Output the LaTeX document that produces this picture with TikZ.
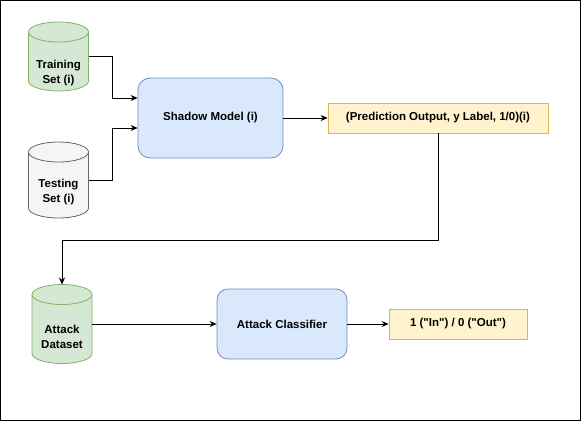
\documentclass[tikz,border=0pt]{standalone}
\usepackage{fontspec}
\setmainfont{Liberation Sans}
\usetikzlibrary{arrows.meta}
\definecolor{greenfill}{HTML}{D5E8D4}
\definecolor{greenline}{HTML}{82B366}
\definecolor{greyfill}{HTML}{F5F5F5}
\definecolor{greyline}{HTML}{666666}
\definecolor{bluefill}{HTML}{DAE8FC}
\definecolor{blueline}{HTML}{6C8EBF}
\definecolor{yellowfill}{HTML}{FFF2CC}
\definecolor{yellowline}{HTML}{D6B656}
\tikzset{
  dbbox/.style={rectangle, inner sep=0pt, outer sep=0pt, minimum width=60pt},
  model/.style={rectangle, rounded corners=12pt, draw=blueline, fill=bluefill, line width=0.8pt},
  result/.style={rectangle, draw=yellowline, fill=yellowfill, line width=0.8pt},
  caption/.style={align=center, inner sep=0pt},
  flow/.style={-{Stealth[length=7pt, width=6pt]}, line width=0.8pt}
}
\newcommand{\drawdb}[3]{%
  \filldraw[draw=#3, fill=#2, line width=0.8pt] ([yshift=-10pt]#1.north west) -- ([yshift=10pt]#1.south west)
    arc[start angle=180, end angle=360, x radius=30pt, y radius=10pt] -- ([yshift=-10pt]#1.north east)
    arc[start angle=0, end angle=180, x radius=30pt, y radius=10pt] -- cycle;
  \draw[draw=#3, line width=0.8pt] ([yshift=-10pt]#1.north west) arc[start angle=180, end angle=360, x radius=30pt, y radius=10pt];}
\newcommand{\qt}{\textquotedbl}
\begin{document}
\begin{tikzpicture}[x=1pt, y=-1pt, font=\fontsize{11.5}{15}\selectfont\bfseries]
\useasboundingbox (0,0) rectangle (581,421);
\draw[line width=0.8pt] (0.5,0.5) rectangle (580.5,420.5);

\node[dbbox, minimum height=69pt] (train) at (58.5,56.5) {};
\drawdb{train}{greenfill}{greenline}
\node[caption] (traintext) at (58.5,73) {Training\\Set (i)};
\node[dbbox, minimum height=76pt] (test) at (58.5,180) {};
\drawdb{test}{greyfill}{greyline}
\node[caption] (testtext) at (58.5,192) {Testing\\Set (i)};

\node[model, minimum width=145pt, minimum height=80pt] (shadow) at (210.5,118) {Shadow Model (i)};
\node[result, minimum width=220pt, minimum height=30pt] (pred) at (438,118) {(Prediction Output, y Label, 1/0)(i)};

\node[dbbox, minimum height=79pt] (data) at (62,324) {};
\drawdb{data}{greenfill}{greenline}
\node[caption] (datatext) at (62,337) {Attack\\Dataset};
\node[model, rounded corners=11pt, minimum width=130pt, minimum height=70pt] (cls) at (282,324) {Attack Classifier};
\node[result, minimum width=138pt, minimum height=30pt] (out) at (458,324) {1 (\qt In\qt) / 0 (\qt Out\qt)};

\draw[flow] (train.east) -- ++(24,0) |- ([yshift=20pt]shadow.west);
\draw[flow] (test.east) -- ++(24,0) |- ([yshift=-10pt]shadow.west);
\draw[flow] (shadow) -- (pred);
\draw[flow] (pred.south) -- ++(0,107) -| (data.north);
\draw[flow] (data.east) -- (cls.west);
\draw[flow] (cls) -- (out);

\end{tikzpicture}
\end{document}
